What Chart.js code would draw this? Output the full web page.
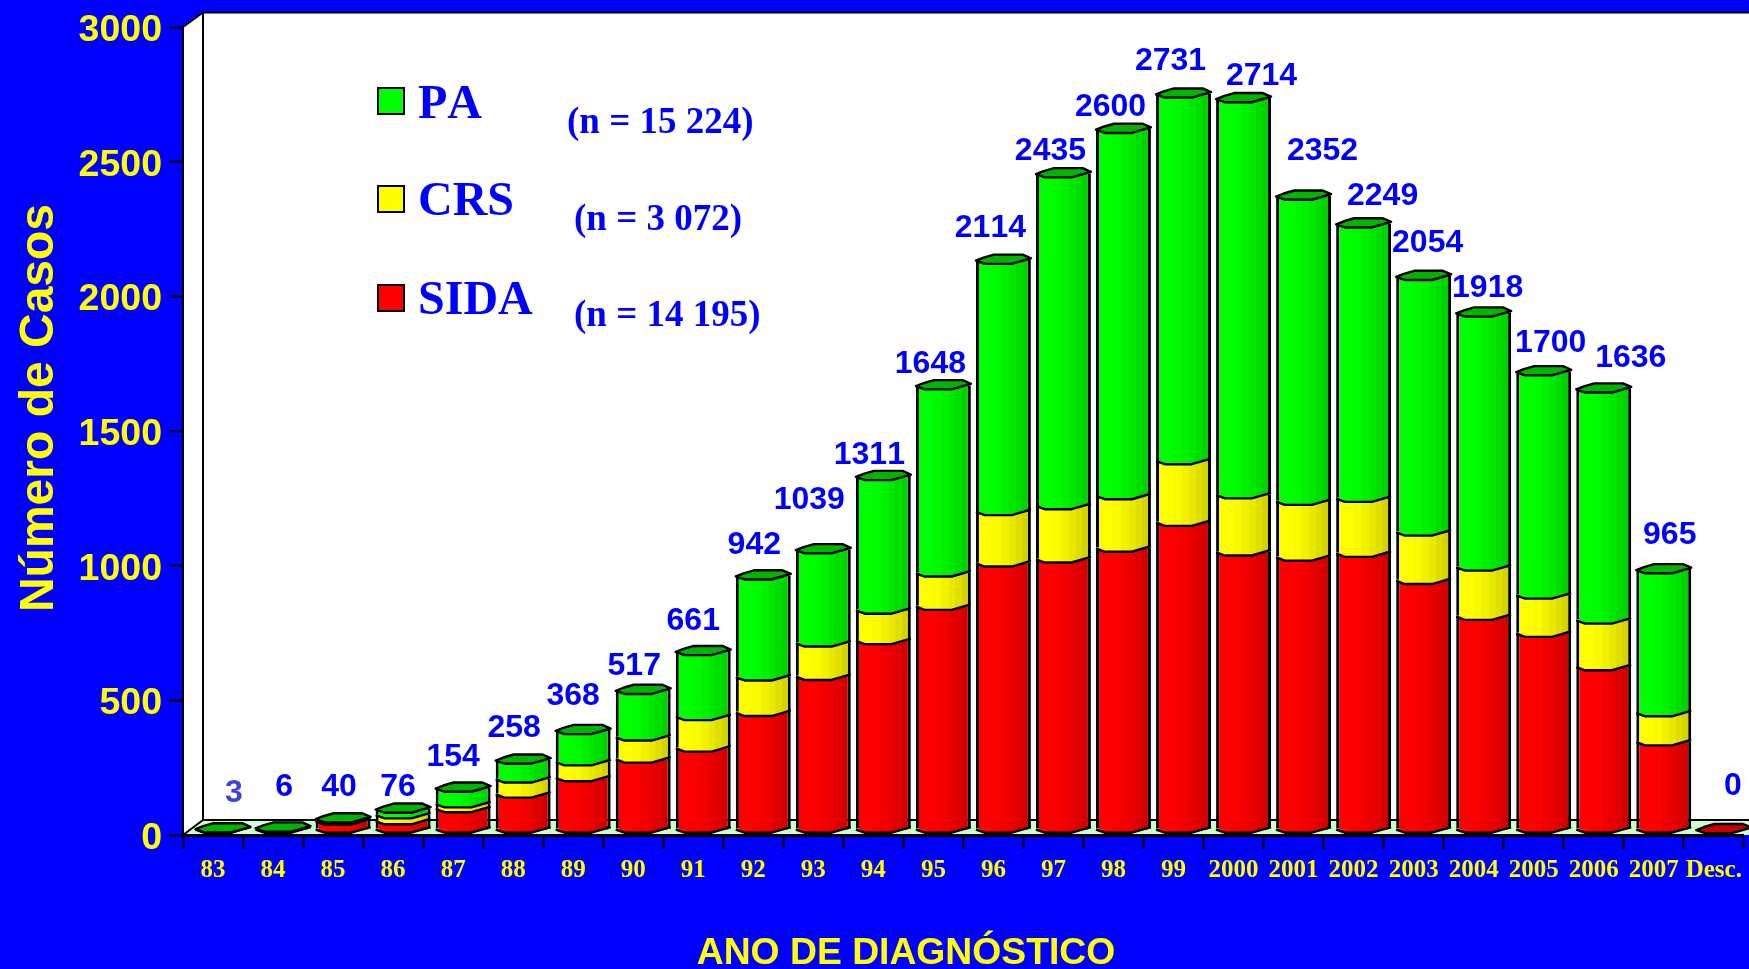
<!DOCTYPE html>
<html><head><meta charset="utf-8">
<style>html,body{margin:0;padding:0;background:#0000ff;overflow:hidden}canvas{display:block}</style>
<script src="https://cdn.jsdelivr.net/npm/chart.js@4"></script>
</head><body><canvas id="c" width="1749" height="969"></canvas>
<script>
const categories = ['83','84','85','86','87','88','89','90','91','92','93','94','95','96','97','98','99','2000','2001','2002','2003','2004','2005','2006','2007','Desc.'];
const sida = [0,0,32,33,78,132,193,262,303,435,569,702,829,990,1005,1045,1141,1031,1012,1026,925,792,729,605,326,0];
const crs  = [0,0,3,22,18,56,59,82,117,132,124,113,124,191,198,195,229,212,207,204,180,183,142,173,108,0];
const pa   = [3,6,5,21,58,70,116,173,241,375,346,496,695,933,1232,1360,1361,1471,1133,1019,949,943,829,858,531,0];
const totals = [3,6,40,76,154,258,368,517,661,942,1039,1311,1648,2114,2435,2600,2731,2714,2352,2249,2054,1918,1700,1636,965,0];
const yTicks = [0,500,1000,1500,2000,2500,3000];
const labelDx = [11,1,-4,-5,-10,-9,-10,-9,-10,-9,-14,-14,-13,-13,-13,-13,-13,18,19,19,4,4,7,27,6,9];
const labelDy = [-41,-46,-37,-27,-36,-37,-40,-30,-36,-36,-55,-27,-27,-37,-28,-28,-38,-28,-50,-33,-39,-30,-34,-36,-40,-49];
const legendItems = [
  {name:'PA',  note:'(n = 15 224)', color:'#00ff00', boxY:88,  base:118, noteX:567, noteBase:133},
  {name:'CRS', note:'(n = 3 072)',  color:'#ffff00', boxY:186, base:215, noteX:574, noteBase:230},
  {name:'SIDA',note:'(n = 14 195)', color:'#ff0000', boxY:285, base:314, noteX:574, noteBase:326}
];
const SANS = '"Liberation Sans", Arial, sans-serif', SERIF = '"Liberation Serif", "Times New Roman", serif';
const DEPTH_X = 20, DEPTH_Y = 15, BAR_LIFT = 6, BAR_PCT = 0.915, SIDE = 3;
const bandStops = [0,.14,.3,.46,.6,.72,.84,.93,1];
const bandLevels = [1,1,.98,.95,.91,.87,.83,.8];
const channel = {r:[255,0,0], y:[255,255,0], g:[0,255,0]};
function makeGradient(ctx,x0,x1,key){
  const g = ctx.createLinearGradient(x0,0,x1,0), c = channel[key];
  bandLevels.forEach((l,i)=>{
    const col = `rgb(${c.map(v=>Math.round(v*l)).join(',')})`;
    g.addColorStop(bandStops[i],col);
    g.addColorStop(bandStops[i+1],col);
  });
  return g;
}
function barFill(key, solid){
  return function(context){
    const ch = context.chart;
    if (context.dataIndex===undefined || !ch.chartArea) return solid;
    const sc = ch.scales.x, cx = sc.getPixelForValue(context.dataIndex), hw = sc.width/categories.length*BAR_PCT/2;
    return makeGradient(ch.ctx,cx-hw,cx+hw,key);
  };
}
const frontPts = [[0,1],[.16,4.2],[.65,4.2],[.84,1.2],[1,-1.4]];
const backPts  = [[1,-1.4],[.85,-5],[.33,-5],[.14,-2],[0,1]];
function pathPts(ctx,x0,w,y,pts,start){
  pts.forEach((p,i)=>{const X=x0+p[0]*w,Y=y+p[1]; (i===0&&start)?ctx.moveTo(X,Y):ctx.lineTo(X,Y);});
}
const scene = {
  id:'scene',
  beforeDraw(ch){
    const {ctx,chartArea:a,width} = ch, bx=a.left+DEPTH_X, ty=a.top-DEPTH_Y+.5, fy=a.bottom-DEPTH_Y;
    ctx.save();
    ctx.fillStyle='#0000ff'; ctx.fillRect(0,0,width,ch.height);
    ctx.fillStyle='#ffffff';
    ctx.beginPath(); ctx.moveTo(a.left,a.top); ctx.lineTo(bx,ty); ctx.lineTo(width,ty); ctx.lineTo(width,fy); ctx.lineTo(bx,fy); ctx.lineTo(a.left,a.bottom); ctx.closePath(); ctx.fill();
    ctx.fillStyle='#ccffcc';
    ctx.beginPath(); ctx.moveTo(a.left,a.bottom); ctx.lineTo(bx,fy); ctx.lineTo(width,fy); ctx.lineTo(width,a.bottom); ctx.closePath(); ctx.fill();
    ctx.strokeStyle='#000'; ctx.lineWidth=2;
    ctx.beginPath();
    ctx.moveTo(a.left,a.top); ctx.lineTo(bx,ty); ctx.lineTo(width,ty);
    ctx.moveTo(bx,ty); ctx.lineTo(bx,fy); ctx.lineTo(width,fy);
    ctx.moveTo(a.left,a.bottom); ctx.lineTo(bx,fy);
    ctx.stroke();
    ctx.restore();
  },
  beforeDatasetsDraw(ch){ ch.ctx.save(); ch.ctx.translate(DEPTH_X/2,-BAR_LIFT); },
  afterDatasetsDraw(ch){
    const ctx = ch.ctx, keys=['r','y','g'], caps={r:'#c80000',y:'#c8c800',g:'#00b400'};
    categories.forEach((c,i)=>{
      let topEl=null, topKey='r';
      [0,1,2].forEach(d=>{
        const el = ch.getDatasetMeta(d).data[i];
        const v = ch.data.datasets[d].data[i];
        if (!el) return;
        const x0 = el.x-el.width/2, w = el.width;
        if (v>0){
          const fill = makeGradient(ctx,x0,x0+w,keys[d]);
          ctx.fillStyle = fill;
          ctx.beginPath(); pathPts(ctx,x0,w,el.base,frontPts,true); ctx.closePath(); ctx.fill();
          const h = Math.min(3,Math.max(0,el.base-el.y));
          if (h>0) ctx.fillRect(x0+SIDE,el.base-h,w-2*SIDE,h+1);
          ctx.beginPath(); pathPts(ctx,x0,w,el.base,frontPts,true);
          ctx.strokeStyle='#000'; ctx.lineWidth=2.4; ctx.stroke();
          topEl=el; topKey=keys[d];
        } else if (!topEl && i===categories.length-1 && d===0) { topEl=el; }
      });
      if (topEl){
        const x0=topEl.x-topEl.width/2, w=topEl.width, y=topEl.y;
        ctx.beginPath(); pathPts(ctx,x0,w,y,frontPts,true); pathPts(ctx,x0,w,y,backPts,false); ctx.closePath();
        ctx.fillStyle=caps[topKey]; ctx.fill();
        ctx.strokeStyle='#000'; ctx.lineWidth=2.4; ctx.lineJoin='round'; ctx.stroke();
      }
    });
    ctx.restore();
    ctx.save();
    ctx.fontKerning='none';
    ctx.font=`bold 32px ${SANS}`; ctx.textAlign='center'; ctx.textBaseline='middle';
    totals.forEach((t,i)=>{
      ctx.fillStyle = i===0 ? '#3c46d2' : '#0000ff';
      ctx.fillText(String(t), ch.scales.x.getPixelForValue(i)+DEPTH_X/2+labelDx[i], ch.scales.y.getPixelForValue(t)+labelDy[i]);
    });
    legendItems.forEach(it=>{
      ctx.fillStyle=it.color; ctx.strokeStyle='#000'; ctx.lineWidth=2;
      ctx.fillRect(378,it.boxY,26,26); ctx.strokeRect(378,it.boxY,26,26);
      ctx.fillStyle='#0000ff'; ctx.textAlign='left'; ctx.textBaseline='alphabetic';
      ctx.font=`bold 48px ${SERIF}`; ctx.fillText(it.name,418,it.base);
      ctx.font=`bold 37px ${SERIF}`; ctx.fillText(it.note,it.noteX,it.noteBase);
    });
    ctx.fillStyle='#ffff00'; ctx.textAlign='center'; ctx.textBaseline='middle';
    ctx.font=`bold 37.3px ${SANS}`; ctx.fillText('ANO DE DIAGNÓSTICO',906,954);
    ctx.translate(40,408); ctx.rotate(-Math.PI/2);
    ctx.font=`bold 48px ${SANS}`; ctx.fillText('Número de Casos',0,0);
    ctx.restore();
  }
};
function ds(label,data,key,solid){
  return {label,data,backgroundColor:barFill(key,solid),borderColor:'#000000',
    borderWidth:{left:SIDE,right:SIDE,top:0,bottom:0},borderSkipped:false,inflateAmount:0,clip:false,
    barPercentage:BAR_PCT,categoryPercentage:1};
}
new Chart(document.getElementById('c'),{
  type:'bar',
  data:{labels:categories,datasets:[ds('SIDA',sida,'r','#ff0000'),ds('CRS',crs,'y','#ffff00'),ds('PA',pa,'g','#00ff00')]},
  plugins:[scene],
  options:{
    responsive:false,animation:false,devicePixelRatio:1,
    layout:{autoPadding:false,padding:{left:0,top:27,right:5,bottom:0}},
    plugins:{legend:{display:false},title:{display:false},tooltip:{enabled:false}},
    scales:{
      x:{stacked:true,offset:true,
        afterFit(s){s.height=134;},
        grid:{display:true,offset:true,drawOnChartArea:false,drawTicks:true,tickLength:14,tickWidth:2,tickColor:'#000'},
        border:{display:true,color:'#000',width:3},
        ticks:{color:'#ffff00',font:{family:SERIF,weight:'bold',size:25},padding:7,maxRotation:0,autoSkip:false}},
      y:{stacked:true,min:0,max:3000,
        afterBuildTicks(s){s.ticks=yTicks.map(v=>({value:v}));},
        afterFit(s){s.width=183;},
        grid:{display:true,drawOnChartArea:false,drawTicks:true,tickLength:14,tickWidth:2,tickColor:'#000'},
        border:{display:true,color:'#000',width:2},
        ticks:{color:'#ffff00',font:{family:SANS,weight:'bold',size:37.5,lineHeight:'7px'},padding:7,callback(v){return ['',String(v)];}}}
    }
  }
});
</script></body></html>
